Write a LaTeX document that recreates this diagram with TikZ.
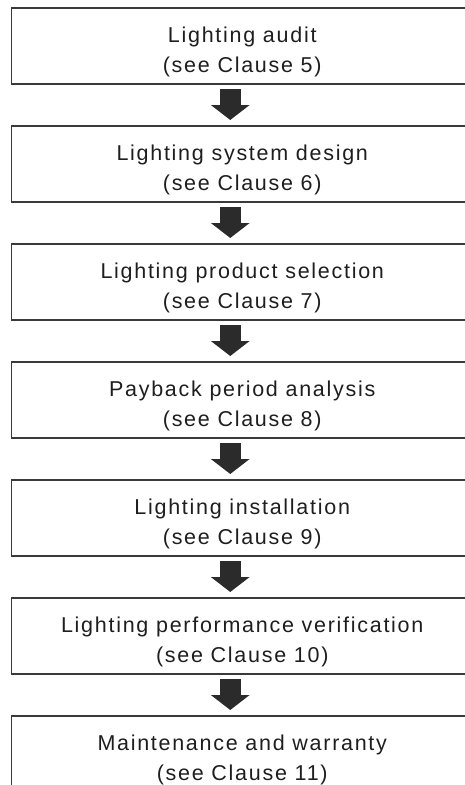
\documentclass[tikz,border=0pt]{standalone}
\usepackage{fontspec}
\setmainfont{Liberation Sans}[LetterSpace=8]
\usepackage{tikz}
\usetikzlibrary{arrows.meta, positioning}
\definecolor{boxline}{HTML}{3A3A3A}
\definecolor{arrowfill}{HTML}{2B2B2B}
\definecolor{inktext}{HTML}{1E1E1E}
\newcommand{\stagetext}[2]{\rule{0pt}{26.5pt}#1\\#2}

\begin{document}
\begin{tikzpicture}[x=1pt, y=1pt,
  stage/.style={draw=boxline, line width=1.2pt, outer sep=0pt,
    minimum width=461.5pt, minimum height=76pt, inner sep=0pt,
    align=center, text=inktext,
    font=\fontsize{21.5pt}{30pt}\selectfont},
  flow/.style={draw=arrowfill, line width=21pt,
    -{Triangle[width=38pt, length=15pt, fill=arrowfill]}}]
  \useasboundingbox (0,0) rectangle (464,-785);

  % the seven stages, top to bottom
  \node[stage] (audit) at (242.25,-46) {\stagetext{Lighting audit}{(see Clause 5)}};
  \node[stage, below=42pt of audit] (design) {\stagetext{Lighting system design}{(see Clause 6)}};
  \node[stage, below=42pt of design] (select) {\stagetext{Lighting product selection}{(see Clause 7)}};
  \node[stage, below=42pt of select] (payback) {\stagetext{Payback period analysis}{(see Clause 8)}};
  \node[stage, below=42pt of payback] (install) {\stagetext{Lighting installation}{(see Clause 9)}};
  \node[stage, below=42pt of install] (verify) {\stagetext{Lighting performance verification}{(see Clause 10)}};
  \node[stage, below=42pt of verify] (maint) {\stagetext{Maintenance and warranty}{(see Clause 11)}};

  % block arrows, a little left of centre
  \foreach \a/\b in {audit/design, design/select, select/payback,
                     payback/install, install/verify, verify/maint} {
    \draw[flow] ([xshift=-12pt, yshift=-5pt]\a.south)
      -- ([xshift=-12pt, yshift=6pt]\b.north);
  }
\end{tikzpicture}
\end{document}
